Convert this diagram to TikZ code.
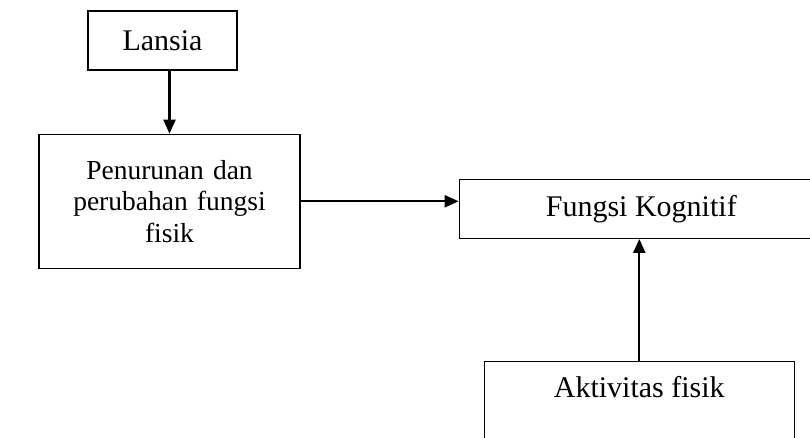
\documentclass[tikz,border=0pt]{standalone}
\usepackage{fontspec}
\setmainfont{Liberation Serif}
\usetikzlibrary{arrows.meta,positioning}

\begin{document}
\begin{tikzpicture}[x=1pt,y=1pt]
\tikzset{
  kotak/.style={rectangle, draw=black, line width=1.3pt, align=center, inner sep=0pt,
                font=\fontsize{30}{35}\selectfont},
  panah/.style={-{Triangle[length=14pt,width=12pt]}, draw=black, line width=2.2pt}
}
\useasboundingbox (0,0) rectangle (810,-438);

\node[kotak, minimum width=149pt, minimum height=59pt] (lansia) at (162.5,-40.5) {Lansia};
\node[kotak, below=63pt of lansia, xshift=7pt, minimum width=261pt, minimum height=134pt,
      text width=240pt, font=\fontsize{27.5}{31.5}\selectfont] (turun)
     {Penurunan dan\\perubahan fungsi\\fisik};
\node[kotak, right=158pt of turun, yshift=-7.5pt, minimum width=364pt, minimum height=59pt] (kognitif)
     {Fungsi Kognitif};
\node[kotak, below=122pt of kognitif, xshift=-2pt, minimum width=310pt,
      inner ysep=14pt, text height=22pt, text depth=61pt] (aktivitas) {Aktivitas fisik};

% Panah
\draw[panah] (turun.north |- lansia.south) -- (turun.north);
\draw[panah] (turun.east) -- (turun.east -| kognitif.west);
\draw[panah] (aktivitas.north) -- (aktivitas.north |- kognitif.south);
\end{tikzpicture}
\end{document}
